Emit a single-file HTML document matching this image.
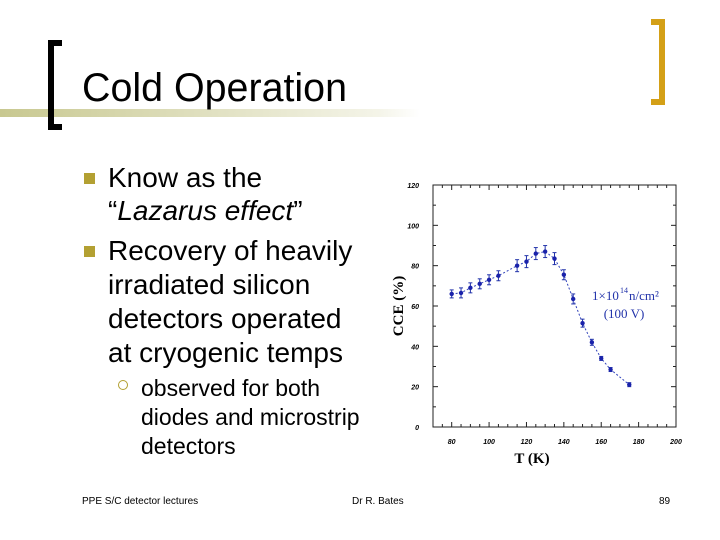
<!DOCTYPE html>
<html><head><meta charset="utf-8"><style>
body{margin:0;width:720px;height:540px;background:#fff;position:relative;overflow:hidden;font-family:"Liberation Sans",sans-serif}
.a{position:absolute;white-space:nowrap}
</style></head><body>
<div class="a" style="left:0;top:109px;width:420px;height:8px;background:linear-gradient(to right,#c8c890,#f4f4e8 90%,#fff)"></div>
<div class="a" style="left:48px;top:40px;width:6px;height:90px;background:#000"></div>
<div class="a" style="left:48px;top:40px;width:14px;height:6px;background:#000"></div>
<div class="a" style="left:48px;top:124px;width:14px;height:6px;background:#000"></div>
<div class="a" style="left:659px;top:19px;width:6px;height:86px;background:#d4a017"></div>
<div class="a" style="left:651px;top:19px;width:14px;height:6px;background:#d4a017"></div>
<div class="a" style="left:651px;top:99px;width:14px;height:6px;background:#d4a017"></div>
<div class="a" style="left:82px;top:66px;font-size:40px;transform:scaleX(0.985);transform-origin:left">Cold Operation</div>
<div class="a" style="left:84px;top:173px;width:11px;height:11px;background:#b3a032"></div>
<div class="a" style="left:84px;top:246px;width:11px;height:11px;background:#b3a032"></div>
<div class="a" style="left:108px;top:161px;font-size:28px;line-height:33px">Know as the<br>“<i>Lazarus effect</i>”</div>
<div class="a" style="left:108px;top:234px;font-size:28px;line-height:34px">Recovery of heavily<br>irradiated silicon<br>detectors operated<br>at cryogenic temps</div>
<div class="a" style="left:118px;top:380px;width:8px;height:8px;border:1.5px solid #b3a032;border-radius:50%"></div>
<div class="a" style="left:141px;top:374px;font-size:23px;line-height:29px">observed for both<br>diodes and microstrip<br>detectors</div>
<div class="a" style="left:82px;top:496px;font-size:10px">PPE S/C detector lectures</div>
<div class="a" style="left:352px;top:496px;font-size:10px">Dr R. Bates</div>
<div class="a" style="left:659px;top:496px;font-size:10px">89</div>
<svg class="a" style="left:0;top:0" width="720" height="540" id="chart"></svg>
<script>
const temps=[80,85,90,95,100,105,115,120,125,130,135,140,145,150,155,160,165,175];
const cce=[66,66.5,69,71,73,75,80,82,86,87,83.5,75.5,63.5,51.5,42,34,28.5,21];
const errs=[2,2.5,2.5,2.5,2.5,2.5,3,3,3,3,3,2.5,2.5,2,1.5,1,1,1];
const xTicks=[80,100,120,140,160,180,200];
const yTicks=[0,20,40,60,80,100,120];
const X0=433,X1=676,Y0=427,Y1=185;
const sx=v=>X0+(v-70)/(200-70)*(X1-X0);
const sy=v=>Y0-(v-0)/120*(Y0-Y1);
const svg=document.getElementById('chart');const NS='http://www.w3.org/2000/svg';
function mk(t,a,txt){const e=document.createElementNS(NS,t);for(const k in a)e.setAttribute(k,a[k]);if(txt!==undefined)e.textContent=txt;svg.appendChild(e);return e;}
let e=mk('rect',{x:X0,y:Y1,width:X1-X0,height:Y0-Y1,fill:'none',stroke:'#222','stroke-width':1});


for(let v=70;v<=200;v+=5){const L=v%20===0?5:3;mk('line',{x1:sx(v),x2:sx(v),y1:Y0,y2:Y0-L,stroke:'#222'});mk('line',{x1:sx(v),x2:sx(v),y1:Y1,y2:Y1+L,stroke:'#222'});}
for(let v=0;v<=120;v+=10){const L=v%20===0?5:3;mk('line',{x1:X0,x2:X0+L,y1:sy(v),y2:sy(v),stroke:'#222'});mk('line',{x1:X1,x2:X1-L,y1:sy(v),y2:sy(v),stroke:'#222'});}
xTicks.forEach(v=>{e=mk('text',{x:sx(v),y:Y0+17,'font-size':7,'font-style':'italic','font-weight':'bold','text-anchor':'middle','font-family':'Liberation Sans'},v);

});
yTicks.forEach(v=>{e=mk('text',{x:X0-14,y:sy(v)+3,'font-size':7,'font-style':'italic','font-weight':'bold','text-anchor':'end','font-family':'Liberation Sans'},v);

});
e=mk('text',{x:532,y:463,'font-size':15,'font-weight':'bold','text-anchor':'middle','font-family':'Liberation Serif'},'T (K)');


e=mk('text',{x:403,y:306,'font-size':15,'font-weight':'bold','text-anchor':'middle','font-family':'Liberation Serif',transform:'rotate(-90 403 306)'},'CCE (%)');


e=mk('polyline',{points:temps.map((t,i)=>sx(t)+','+sy(cce[i])).join(' '),fill:'none',stroke:'#3344bb','stroke-width':1,'stroke-dasharray':'2,2'});


temps.forEach((t,i)=>{const x=sx(t),y=sy(cce[i]),d=errs[i]*2;
mk('line',{x1:x,x2:x,y1:y-d,y2:y+d,stroke:'#2233aa'});mk('line',{x1:x-2,x2:x+2,y1:y-d,y2:y-d,stroke:'#2233aa'});mk('line',{x1:x-2,x2:x+2,y1:y+d,y2:y+d,stroke:'#2233aa'});
e=mk('circle',{cx:x,cy:y,r:2.2,fill:'#1a22aa'});

});
e=mk('text',{x:592,y:300,'font-size':13,fill:'#2233aa','font-family':'Liberation Serif'},'1×10');


mk('text',{x:620,y:293,'font-size':8,fill:'#2233aa','font-family':'Liberation Serif'},'14');
mk('text',{x:629,y:300,'font-size':13,fill:'#2233aa','font-family':'Liberation Serif'},'n/cm²');
e=mk('text',{x:624,y:318,'font-size':13,fill:'#2233aa','text-anchor':'middle','font-family':'Liberation Serif'},'(100 V)');


</script>
</body></html>
